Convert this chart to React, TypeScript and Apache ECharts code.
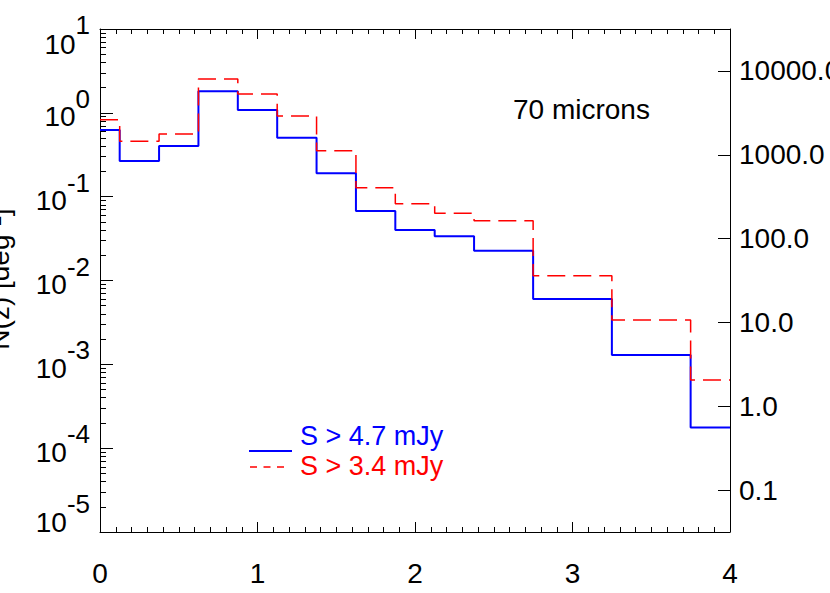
import React, { useEffect, useRef } from 'react';
import * as echarts from 'echarts';

// bin centres (redshift) and histogram values
const zCenters = [0, 0.25, 0.5, 0.75, 1.0, 1.25, 1.5, 1.75, 2.0, 2.25, 2.5, 3.0, 3.5, 4.0];
const blueValues = [0.624, 0.266, 0.402, 1.806, 1.081, 0.505, 0.19, 0.0674, 0.04, 0.0337, 0.0227, 0.00601, 0.00129, 0.000177];
const redValues = [0.828, 0.457, 0.559, 2.533, 1.677, 0.917, 0.353, 0.128, 0.0824, 0.0633, 0.0517, 0.0114, 0.00338, 0.00065];

const xTickLabels = ['0', '1', '2', '3', '4'];
const legendLabels = ['S > 4.7 mJy', 'S > 3.4 mJy'];
const panelLabel = '70 microns';
const yTitle = 'N(z) [deg⁻²]';

// minor log ticks for the left axis (in log10 space)
const minorLogTicks: number[] = [];
for (let k = -5; k < 1; k++) {
  for (let m = 2; m <= 9; m++) minorLogTicks.push(Math.log10(m) + k);
}

const FONT = 'Liberation Sans, Arial, Helvetica, sans-serif';

export default function App() {
  const ref = useRef<HTMLDivElement>(null);
  useEffect(() => {
    const chart = echarts.init(ref.current!, null, { renderer: 'svg' });
    const black = '#000000';
    const option: any = {
      animation: false,
      backgroundColor: '#ffffff',
      textStyle: { fontFamily: FONT },
      grid: { left: 100, right: 100, top: 29, bottom: 61, containLabel: false, outerBoundsMode: 'none' },
      xAxis: [
        {
          type: 'value',
          min: 0,
          max: 4,
          interval: 1,
          position: 'bottom',
          axisLine: { show: true, onZero: false, lineStyle: { color: black, width: 1 } },
          axisTick: { show: true, inside: true, length: 10, lineStyle: { color: black } },
          minorTick: { show: true, splitNumber: 10, length: 5, lineStyle: { color: black } },
          splitLine: { show: false },
          axisLabel: {
            color: black,
            fontSize: 28,
            fontFamily: FONT,
            margin: 27,
            formatter: (v: number) => xTickLabels[Math.round(v)] ?? '',
          },
        },
        {
          type: 'value',
          min: 0,
          max: 4,
          interval: 1,
          position: 'top',
          axisLine: { show: true, onZero: false, lineStyle: { color: black, width: 1 } },
          axisTick: { show: true, inside: true, length: 10, lineStyle: { color: black } },
          minorTick: { show: true, splitNumber: 10, length: 5, lineStyle: { color: black } },
          splitLine: { show: false },
          axisLabel: { show: false },
        },
      ],
      yAxis: [
        {
          type: 'log',
          logBase: 10,
          min: 1e-5,
          max: 10,
          splitNumber: 6,
          position: 'left',
          axisLine: { show: true, onZero: false, lineStyle: { color: black, width: 1 } },
          axisTick: { show: true, inside: true, length: 13, lineStyle: { color: black } },
          splitLine: { show: false },
          axisLabel: {
            color: black,
            margin: 10,
            fontFamily: FONT,
            formatter: (v: number) => {
              const e = Math.round(Math.log10(v));
              const p = e === 1 ? 't' : e === -5 ? 'b' : 'm';
              return `{${p}b|10}{${p}s|${e}}`;
            },
            rich: {
              mb: { fontSize: 28, fontFamily: FONT, color: black, verticalAlign: 'bottom' },
              ms: { fontSize: 26, fontFamily: FONT, color: black, height: 0, verticalAlign: 'top', padding: [4, 0, 32, 0] },
              tb: { fontSize: 28, fontFamily: FONT, color: black, verticalAlign: 'bottom' },
              ts: { fontSize: 26, fontFamily: FONT, color: black, height: 0, verticalAlign: 'top', padding: [25, 0, 33, 0] },
              bb: { fontSize: 28, fontFamily: FONT, color: black, verticalAlign: 'bottom', padding: [0, 0, 26, 0] },
              bs: { fontSize: 26, fontFamily: FONT, color: black, height: 0, verticalAlign: 'top', padding: [2, 0, 58, 0] },
            },
          },
        },
        {
          type: 'value',
          min: -5,
          max: 1,
          position: 'left',
          axisLine: { show: false, onZero: false },
          axisTick: { show: true, inside: true, length: 6, customValues: minorLogTicks, lineStyle: { color: black } },
          axisLabel: { show: false },
          splitLine: { show: false },
        },
        {
          type: 'log',
          logBase: 10,
          min: Math.pow(10, -1.5),
          max: Math.pow(10, 4.5),
          splitNumber: 6,
          position: 'right',
          axisLine: { show: true, onZero: false, lineStyle: { color: black, width: 1 } },
          axisTick: { show: true, inside: true, length: 12, lineStyle: { color: black } },
          splitLine: { show: false },
          axisLabel: {
            color: black,
            fontSize: 28,
            fontFamily: FONT,
            margin: 9,
            formatter: (v: number) => {
              const l = Math.log10(v);
              if (Math.abs(l - Math.round(l)) > 1e-6) return '';
              return v.toFixed(1);
            },
          },
        },
      ],
      series: [
        {
          type: 'line',
          name: legendLabels[0],
          xAxisIndex: 0,
          yAxisIndex: 0,
          step: 'middle',
          symbol: 'none',
          data: zCenters.map((z, i) => [z, blueValues[i]]),
          lineStyle: { color: '#0000ff', width: 2 },
          z: 3,
        },
        {
          type: 'line',
          name: legendLabels[1],
          xAxisIndex: 0,
          yAxisIndex: 0,
          step: 'middle',
          symbol: 'none',
          data: zCenters.map((z, i) => [z, redValues[i]]),
          lineStyle: { color: '#ff0000', width: 1.5, type: [18, 8] },
          z: 4,
        },
      ],
      graphic: [
        {
          type: 'text',
          x: 513,
          y: 109,
          style: { text: panelLabel, fontSize: 28, fontFamily: FONT, fill: black, textAlign: 'left', textVerticalAlign: 'middle' },
        },
        {
          type: 'line',
          shape: { x1: 249, y1: 451, x2: 292, y2: 451 },
          style: { stroke: '#0000ff', lineWidth: 2 },
        },
        {
          type: 'text',
          x: 300,
          y: 436,
          style: { text: legendLabels[0], fontSize: 27, fontFamily: FONT, fill: '#0000ff', textAlign: 'left', textVerticalAlign: 'middle' },
        },
        {
          type: 'line',
          shape: { x1: 250, y1: 467, x2: 284, y2: 467 },
          style: { stroke: '#ff0000', lineWidth: 1.5, lineDash: [7, 6.5] },
        },
        {
          type: 'text',
          x: 300,
          y: 466,
          style: { text: legendLabels[1], fontSize: 27, fontFamily: FONT, fill: '#ff0000', textAlign: 'left', textVerticalAlign: 'middle' },
        },
        {
          type: 'text',
          x: 13,
          y: 279,
          rotation: Math.PI / 2,
          style: { text: yTitle, fontSize: 28, fontFamily: FONT, fill: black, textAlign: 'center', textVerticalAlign: 'bottom' },
        },
      ],
    };
    chart.setOption(option);
    return () => chart.dispose();
  }, []);
  return <div ref={ref} style={{ position: 'fixed', left: 0, top: 0, width: 830, height: 593 }} />;
}
